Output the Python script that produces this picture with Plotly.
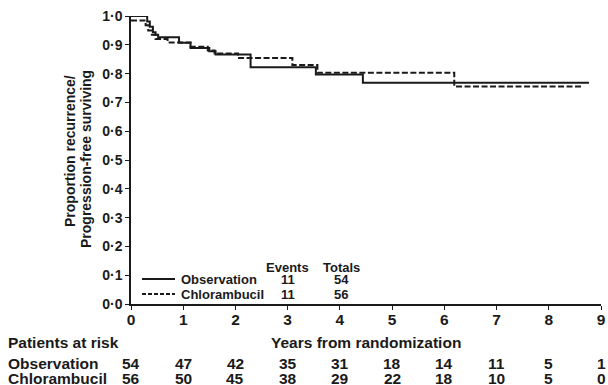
import plotly.graph_objects as go

# ---- data ----
obs_t = [0, 0.31, 0.36, 0.42, 0.47, 0.52, 0.92, 1.14, 1.50, 1.62, 2.29, 3.54, 4.44, 8.77]
obs_s = [1.0, 0.981, 0.963, 0.944, 0.935, 0.926, 0.907, 0.889, 0.878, 0.866, 0.822, 0.797, 0.768, 0.768]

chl_t = [0, 0.28, 0.33, 0.40, 0.47, 0.70, 1.14, 1.47, 1.60, 2.05, 3.09, 3.57, 6.19, 8.63]
chl_s = [0.984, 0.968, 0.950, 0.935, 0.920, 0.908, 0.893, 0.880, 0.870, 0.854, 0.830, 0.803, 0.755, 0.755]

groups = ["Observation", "Chlorambucil"]
events = [11, 11]
totals = [54, 56]

x_ticks = list(range(0, 10))
y_ticks = [i / 10 for i in range(0, 11)]
y_ticklabels = ["0·0", "0·1", "0·2", "0·3", "0·4", "0·5", "0·6", "0·7", "0·8", "0·9", "1·0"]

risk_obs = [54, 47, 42, 35, 31, 18, 14, 11, 5, 1]
risk_chl = [56, 50, 45, 38, 29, 22, 18, 10, 5, 0]

FONT = "Liberation Sans"
INK = "#1a1a1a"
W, H = 608, 385
ML, MR, MT, MB = 131, 7, 16, 81
PW, PH = W - ML - MR, H - MT - MB


def px(xp):
    return (xp - ML) / PW


def py(yp):
    return (H - MB - yp) / PH


def f(size):
    return dict(family=FONT, size=size, weight="bold", color=INK)


def note(x, y, text, size, xref="paper", xanchor="center", angle=0):
    return dict(x=x, y=y, xref=xref, yref="paper", text=text, showarrow=False, borderpad=0,
                xanchor=xanchor, yanchor="middle", textangle=angle, font=f(size))


dashes = [None, "6px,2.5px"]

fig = go.Figure()
for name, t, s, d in zip(groups, [obs_t, chl_t], [obs_s, chl_s], dashes):
    fig.add_trace(go.Scatter(x=t, y=s, mode="lines", line_shape="hv", name=name,
                             showlegend=False, hoverinfo="skip",
                             line=dict(color=INK, width=2, dash=d or "solid")))

ann = []
shapes = []
# legend drawn as key lines + labels
for i, (name, d) in enumerate(zip(groups, dashes)):
    yrow = py(279 + 15 * i)
    shapes.append(dict(type="line", xref="paper", yref="paper", x0=px(142), x1=px(175),
                       y0=yrow, y1=yrow, line=dict(color=INK, width=2, dash=("4px,2px" if d else "solid"))))
    ann.append(note(px(180), yrow - 0.003, name, 13, xanchor="left"))
    ann.append(note(3.0, yrow, str(events[i]), 13, xref="x"))
    ann.append(note(4.03, yrow, str(totals[i]), 13, xref="x"))
ann.append(note(3.0, py(267), "Events", 13, xref="x"))
ann.append(note(4.03, py(267), "Totals", 13, xref="x"))

# y-axis title (two lines)
ann.append(note(px(70), py(151), "Proportion recurrence/", 14, angle=-90))
ann.append(note(px(86), py(159), "Progression-free surviving", 14, angle=-90))

# x-axis title and risk table
ann.append(note(4.5, py(342), "Years from randomization", 15.5, xref="x"))
ann.append(note(px(7), py(342), "Patients at risk", 15.5, xanchor="left"))
for row, (lab, vals) in enumerate(zip(groups, [risk_obs, risk_chl])):
    yy = py(363.5 + 15 * row)
    ann.append(note(px(7), yy, lab, 15.5, xanchor="left"))
    for xv, v in zip(x_ticks, vals):
        ann.append(note(xv, yy, str(v), 15.5, xref="x"))

fig.update_layout(
    width=W, height=H,
    margin=dict(l=ML, r=MR, t=MT, b=MB, autoexpand=False),
    paper_bgcolor="white", plot_bgcolor="white",
    showlegend=False,
    annotations=ann,
    shapes=shapes,
    xaxis=dict(range=[0, 9], tickvals=x_ticks, showline=True, linecolor=INK, linewidth=1.5,
               ticks="outside", ticklen=4, tickcolor=INK, showgrid=False, zeroline=False,
               automargin=False, tickfont=f(15.5), ticklabelstandoff=-3),
    yaxis=dict(range=[0, 1.0], tickvals=y_ticks, ticktext=y_ticklabels, showline=True,
               linecolor=INK, linewidth=1.5, ticks="outside", ticklen=4, tickcolor=INK,
               showgrid=False, zeroline=False, automargin=False, tickfont=f(14)),
)

fig.write_html("out.html", config={"displayModeBar": False},
               post_script="document.body.style.margin='0';")
